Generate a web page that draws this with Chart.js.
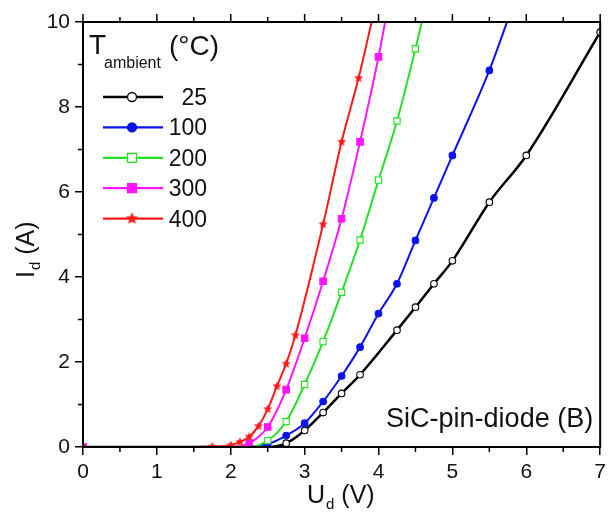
<!DOCTYPE html>
<html lang="en">
<head>
<meta charset="UTF-8">
<title>SiC-pin-diode I-V</title>
<script src="https://cdn.jsdelivr.net/npm/chart.js"></script>
<style>
  body { margin: 0; background: #fff; }
</style>
</head>
<body>
<canvas id="myChart" width="611" height="513"></canvas>
<script>
// ambient temperatures (°C) and colours
const temps = ['25', '100', '200', '300', '400'];
const colors = ['#000000', '#0a12ee', '#22e022', '#ff14ff', '#ff1818'];

// U_d (V) / I_d (A), one pair of arrays per temperature
// (points with I = 0 past U = 0 just carry the line along the axis)
const u25 = [0, 2.0, 2.5, 2.75, 3.0, 3.25, 3.5, 3.75, 4.25, 4.5, 4.75, 5.0, 5.5, 6.0, 7.0];
const i25 = [0, 0, 0, 0.09, 0.39, 0.81, 1.26, 1.70, 2.75, 3.29, 3.84, 4.38, 5.76, 6.86, 9.76];

const u100 = [0, 2.0, 2.25, 2.5, 2.75, 3.0, 3.25, 3.5, 3.75, 4.0, 4.25, 4.5, 4.75, 5.0, 5.5, 5.76];
const i100 = [0, 0, 0, 0.07, 0.27, 0.56, 1.07, 1.67, 2.35, 3.14, 3.84, 4.86, 5.86, 6.86, 8.86, 10.1];

const u200 = [0, 2.0, 2.25, 2.5, 2.75, 3.0, 3.25, 3.5, 3.75, 4.0, 4.25, 4.5, 4.6];
const i200 = [0, 0, 0, 0.15, 0.60, 1.47, 2.48, 3.64, 4.87, 6.28, 7.67, 9.37, 10.1];

const u300 = [0, 1.75, 2.0, 2.25, 2.5, 2.75, 3.0, 3.25, 3.5, 3.75, 4.0, 4.1];
const i300 = [0, 0, 0, 0.09, 0.47, 1.35, 2.56, 3.9, 5.37, 7.18, 9.18, 10.1];

const u400 = [0, 1.5, 1.75, 2.0, 2.125, 2.25, 2.375, 2.5, 2.625, 2.75, 2.875, 3.25, 3.5, 3.73, 3.92];
const i400 = [0, 0, 0.01, 0.04, 0.12, 0.24, 0.49, 0.89, 1.43, 1.96, 2.63, 5.24, 7.18, 8.68, 10.1];

const xTicks = [0, 1, 2, 3, 4, 5, 6, 7];
const yTicks = [0, 2, 4, 6, 8, 10];

const FONT = 'Arial, "Liberation Sans", Helvetica, sans-serif';

function starImage(color, r) {
  const c = document.createElement('canvas');
  const s = Math.ceil(r * 2 + 2);
  c.width = s; c.height = s;
  const g = c.getContext('2d');
  g.fillStyle = color;
  g.beginPath();
  for (let k = 0; k < 10; k++) {
    const rr = k % 2 ? r * 0.45 : r;
    const ang = -Math.PI / 2 + k * Math.PI / 5;
    g.lineTo(s / 2 + rr * Math.cos(ang), s / 2 + rr * Math.sin(ang));
  }
  g.closePath();
  g.fill();
  return c;
}

const star = starImage(colors[4], 4.8);
const starLegend = starImage(colors[4], 6.5);

const marks = [
  { style: 'circle', fill: '#ffffff', r: 3.3 },
  { style: 'circle', fill: colors[1], r: 3.3 },
  { style: 'rect', fill: '#ffffff', r: 4.4 },
  { style: 'rect', fill: colors[3], r: 4.6 },
  { style: star, fill: colors[4], r: 4.5 }
];

function pts(xs, ys) {
  return xs.map((v, k) => ({ x: v, y: ys[k] }));
}

const allU = [u25, u100, u200, u300, u400];
const allI = [i25, i100, i200, i300, i400];

const datasets = temps.map((t, k) => ({
  label: t,
  data: pts(allU[k], allI[k]),
  showLine: true,
  borderColor: colors[k],
  borderWidth: k === 0 ? 2.5 : 2,
  cubicInterpolationMode: 'monotone',
  pointStyle: marks[k].style,
  pointBackgroundColor: marks[k].fill,
  pointBorderColor: colors[k],
  pointBorderWidth: 1.1,
  pointRadius: c => {
    const p = c.raw;
    if (!p) return 0;
    if (p.y > 10 || (p.x > 0 && p.y <= 0)) return 0;
    return marks[k].r;
  },
  order: k === 4 ? 0 : 5 - k
}));

// frame, minor ticks, axis titles, legend and label
const decor = {
  id: 'decor',
  afterDraw(chart) {
    const { ctx, chartArea: a, scales: { x, y } } = chart;
    ctx.save();
    ctx.strokeStyle = '#000';
    ctx.lineWidth = 2;
    ctx.strokeRect(a.left, a.top, a.right - a.left, a.bottom - a.top);

    ctx.lineWidth = 1.5;
    ctx.beginPath();
    for (let v = 0; v <= 7.001; v += 0.5) {
      const px = x.getPixelForValue(v);
      const len = Math.abs(v % 1) < 1e-6 ? 8 : 5;
      if (len === 5) { ctx.moveTo(px, a.bottom); ctx.lineTo(px, a.bottom + len); }
      ctx.moveTo(px, a.top); ctx.lineTo(px, a.top - len);
    }
    for (let v = 1; v <= 9; v += 2) {
      const py = y.getPixelForValue(v);
      ctx.moveTo(a.left, py); ctx.lineTo(a.left - 5, py);
    }
    ctx.stroke();

    ctx.fillStyle = '#111';
    ctx.textBaseline = 'alphabetic';

    // y title: I_d (A)
    ctx.save();
    ctx.translate(34, 278);
    ctx.rotate(-Math.PI / 2);
    ctx.textAlign = 'left';
    ctx.font = '25px ' + FONT;
    ctx.fillText('I', 0, 0);
    let w = ctx.measureText('I').width + 1;
    ctx.font = '15px ' + FONT;
    ctx.fillText('d', w, 6);
    w += ctx.measureText('d').width;
    ctx.font = '25px ' + FONT;
    ctx.fillText(' (A)', w, 0);
    ctx.restore();

    // x title: U_d (V)
    ctx.textAlign = 'left';
    ctx.font = '25px ' + FONT;
    ctx.fillText('U', 307, 503);
    w = 307 + ctx.measureText('U').width + 1;
    ctx.font = '15px ' + FONT;
    ctx.fillText('d', w, 509);
    w += ctx.measureText('d').width;
    ctx.font = '25px ' + FONT;
    ctx.fillText(' (V)', w, 503);

    // annotation
    ctx.textAlign = 'right';
    ctx.font = '27px ' + FONT;
    ctx.fillText('SiC-pin-diode (B)', a.right - 7, a.bottom - 20);

    // legend title
    ctx.textAlign = 'left';
    ctx.font = '28px ' + FONT;
    ctx.fillText('T', a.left + 6, a.top + 32);
    ctx.font = '16px ' + FONT;
    ctx.fillText('ambient', a.left + 21, a.top + 46);
    ctx.font = '28px ' + FONT;
    ctx.fillText('(°C)', a.left + 86, a.top + 33);

    // legend rows
    temps.forEach((t, k) => {
      const ry = a.top + 75 + k * 30.4;
      const x0 = a.left + 20, x1 = a.left + 80, xm = a.left + 49;
      ctx.strokeStyle = colors[k];
      ctx.lineWidth = k === 0 ? 2.5 : 2.2;
      ctx.beginPath();
      ctx.moveTo(x0, ry); ctx.lineTo(x1, ry);
      ctx.stroke();
      ctx.lineWidth = 1.3;
      ctx.fillStyle = marks[k].fill;
      if (k < 2) {
        ctx.beginPath();
        ctx.arc(xm, ry, 4.5, 0, Math.PI * 2);
        ctx.fill(); ctx.stroke();
      } else if (k < 4) {
        ctx.fillRect(xm - 4.5, ry - 4.5, 9, 9);
        ctx.strokeRect(xm - 4.5, ry - 4.5, 9, 9);
      } else {
        ctx.drawImage(starLegend, xm - starLegend.width / 2, ry - starLegend.height / 2);
      }
      ctx.fillStyle = '#111';
      ctx.textAlign = 'right';
      ctx.font = '23px ' + FONT;
      ctx.fillText(t, a.left + 124, ry + 8);
    });
    ctx.restore();
  }
};

new Chart(document.getElementById('myChart'), {
  type: 'scatter',
  data: { datasets },
  options: {
    responsive: false,
    animation: false,
    layout: { padding: { top: 22, right: 6, left: 0, bottom: 0 } },
    plugins: { legend: { display: false }, tooltip: { enabled: false } },
    scales: {
      x: {
        type: 'linear', min: 0, max: 7,
        afterFit: s => { s.height = 66; },
        afterBuildTicks: s => { s.ticks = xTicks.map(v => ({ value: v })); },
        ticks: { color: '#111', font: { family: FONT, size: 21 }, padding: 5, maxRotation: 0 },
        grid: { drawOnChartArea: false, color: '#000', tickLength: 8, lineWidth: 1.5 },
        border: { color: '#000', width: 2 }
      },
      y: {
        type: 'linear', min: 0, max: 10,
        afterFit: s => { s.width = 83; },
        afterBuildTicks: s => { s.ticks = yTicks.map(v => ({ value: v })); },
        ticks: { color: '#111', font: { family: FONT, size: 21 }, padding: 5 },
        grid: { drawOnChartArea: false, color: '#000', tickLength: 8, lineWidth: 1.5 },
        border: { color: '#000', width: 2 }
      }
    }
  },
  plugins: [decor]
});
</script>
</body>
</html>
